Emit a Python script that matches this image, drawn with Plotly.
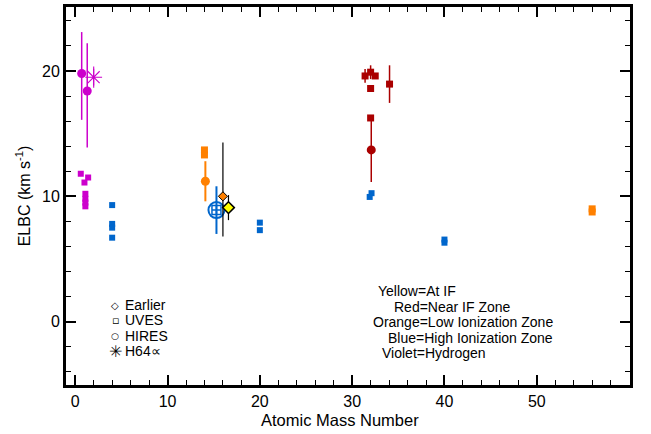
import plotly.graph_objects as go

# ---------------- data ----------------
# Violet = Hydrogen
h_hires_x = [0.7, 1.3]
h_hires_y = [19.8, 18.4]
h_hires_eup = [3.3, 3.8]
h_hires_edn = [3.7, 4.5]
h_uves_x = [0.6, 1.4, 1.0, 1.1, 1.1, 1.1, 1.1]
h_uves_y = [11.8, 11.5, 11.1, 10.2, 9.8, 9.5, 9.2]
h64_x = [2.0]
h64_y = [19.5]
h64_err = [0.85]

# Blue = High ionization zone
blue_uves_x = [4, 4, 4, 4, 20, 20, 32.1, 31.9, 40, 40]
blue_uves_y = [9.3, 7.8, 7.5, 6.7, 7.9, 7.3, 10.25, 9.95, 6.55, 6.3]
blue_comb_x = [15.3]
blue_comb_y = [8.9]
blue_comb_err = [1.9]

# Orange = Low ionization zone
or_uves_x = [14, 14, 56, 56]
or_uves_y = [13.7, 13.3, 9.0, 8.75]
or_hires_x = [14.1]
or_hires_y = [11.2]
or_hires_err = [1.6]
or_earlier_x = [16.0]
or_earlier_y = [10.0]
or_earlier_eup = [4.3]
or_earlier_edn = [3.2]

# Yellow = At IF
ye_earlier_x = [16.6]
ye_earlier_y = [9.1]
ye_earlier_err = [1.0]

# Red = Near IF zone
red_uves_x = [31.4, 32.0, 32.5, 32.0, 34.05, 32.0]
red_uves_y = [19.6, 19.9, 19.6, 18.6, 18.95, 16.25]
red_uves_err = [0.55, 0.55, 0, 0, 1.5, 0]
red_hires_x = [32.07]
red_hires_y = [13.7]
red_hires_err = [2.56]

x_ticks = [0, 10, 20, 30, 40, 50]
y_ticks = [0, 10, 20]

VIOLET = "#CC00CC"
BLUE = "#0066CC"
ORANGE = "#FF8000"
RED = "#AA0000"
YELLOW = "#FFFF00"

fig = go.Figure()

def errbar(arr, color, arrm=None, th=1.5):
    d = dict(type="data", array=arr, color=color, thickness=th, width=0, visible=True)
    if arrm is not None:
        d["symmetric"] = False
        d["arrayminus"] = arrm
    return d

# Hydrogen
fig.add_trace(go.Scatter(x=h_hires_x, y=h_hires_y, mode="markers",
    marker=dict(symbol="circle", size=9, color=VIOLET),
    error_y=errbar(h_hires_eup, VIOLET, h_hires_edn)))
fig.add_trace(go.Scatter(x=h_uves_x, y=h_uves_y, mode="markers",
    marker=dict(symbol="square", size=6, color=VIOLET)))
fig.add_trace(go.Scatter(x=h64_x, y=h64_y, mode="markers",
    marker=dict(symbol="asterisk-open", size=14, color=VIOLET, line=dict(color=VIOLET, width=1.1)),
    error_y=errbar(h64_err, VIOLET, th=1.1)))

# Blue
fig.add_trace(go.Scatter(x=blue_uves_x, y=blue_uves_y, mode="markers",
    marker=dict(symbol="square", size=6, color=BLUE)))
fig.add_trace(go.Scatter(x=blue_comb_x, y=blue_comb_y, mode="markers",
    marker=dict(symbol="circle-open", size=16, color=BLUE, line=dict(color=BLUE, width=2)),
    error_y=errbar(blue_comb_err, BLUE, th=2)))
fig.add_trace(go.Scatter(x=blue_comb_x, y=blue_comb_y, mode="markers",
    marker=dict(symbol="square-cross-open", size=9, color=BLUE, line=dict(color=BLUE, width=1.5))))

# Orange
fig.add_trace(go.Scatter(x=or_uves_x, y=or_uves_y, mode="markers",
    marker=dict(symbol="square", size=7, color=ORANGE)))
fig.add_trace(go.Scatter(x=or_hires_x, y=or_hires_y, mode="markers",
    marker=dict(symbol="circle", size=9, color=ORANGE),
    error_y=errbar(or_hires_err, ORANGE, th=2)))
fig.add_trace(go.Scatter(x=or_earlier_x, y=or_earlier_y, mode="markers",
    marker=dict(symbol="diamond", size=7, color=ORANGE, line=dict(color="black", width=1)),
    error_y=errbar(or_earlier_eup, "black", or_earlier_edn, th=1.2)))

# Yellow
fig.add_trace(go.Scatter(x=ye_earlier_x, y=ye_earlier_y, mode="markers",
    marker=dict(symbol="diamond", size=9, color=YELLOW, line=dict(color="black", width=1.5)),
    error_y=errbar(ye_earlier_err, "black", th=1.2)))

# Red
fig.add_trace(go.Scatter(x=red_uves_x, y=red_uves_y, mode="markers",
    marker=dict(symbol="square", size=7, color=RED),
    error_y=errbar(red_uves_err, RED)))
fig.add_trace(go.Scatter(x=red_hires_x, y=red_hires_y, mode="markers",
    marker=dict(symbol="circle", size=9, color=RED),
    error_y=errbar(red_hires_err, RED)))

FONT = "Arial, Liberation Sans, sans-serif"

axis_common = dict(
    showline=True, linecolor="black", linewidth=3, mirror="allticks",
    ticks="inside", ticklen=10, tickwidth=1.5, tickcolor="black",
    showgrid=False, zeroline=False, automargin=False,
    tickfont=dict(family=FONT, size=16, color="black"),
)

fig.update_xaxes(range=[-1, 60.1], tickvals=x_ticks, ticktext=[str(v) for v in x_ticks],
    minor=dict(dtick=2, tick0=0, ticks="inside", ticklen=5, tickwidth=1.2, tickcolor="black"),
    **axis_common)
fig.update_yaxes(range=[-5.05, 25.1], tickvals=y_ticks, ticktext=[str(v) for v in y_ticks],
    minor=dict(dtick=2, tick0=0, ticks="inside", ticklen=5, tickwidth=1.2, tickcolor="black"),
    title=dict(text="ELBC (km s<sup>-1</sup>)", font=dict(family=FONT, size=16, color="black"), standoff=8),
    **axis_common)

# plot area in page pixels: 66..630 x 7..385 (body margin removed by post_script)
L, R, T, B = 66, 630, 7, 385
W, H = 651, 434

annotations = []
def ptxt(text, px, py, size=14, anchor="left", family=FONT):
    annotations.append(dict(text=text, xref="paper", yref="paper",
        x=(px - L) / (R - L), y=(B - py) / (B - T), xanchor=anchor, yanchor="middle",
        showarrow=False, font=dict(family=family, size=size, color="black")))

# x-axis title
ptxt("Atomic Mass Number", 340, 420, size=16.5, anchor="center")

# legend keys
legend_items = [("◇", "Earlier", 305, 10), ("▫", "UVES", 320, 11), ("○", "HIRES", 336, 9), ("✳", "H64∝", 351, 16)]
for sym, lab, py, sz in legend_items:
    ptxt(sym, 115, py, size=sz, anchor="center", family="DejaVu Sans")
    ptxt(lab, 123, py)

ptxt("Yellow=At IF", 376, 291)
ptxt("Red=Near IF Zone", 392, 307)
ptxt("Orange=Low Ionization Zone", 371, 322)
ptxt("Blue=High Ionization Zone", 386, 338)
ptxt("Violet=Hydrogen", 380, 353)

fig.update_layout(
    width=W, height=H,
    margin=dict(l=L, r=W - R, t=T, b=H - B, autoexpand=False),
    paper_bgcolor="white", plot_bgcolor="white",
    showlegend=False,
    annotations=annotations,
    font=dict(family=FONT, color="black"),
)

fig.write_html("out.html", config={"displayModeBar": False},
               post_script="document.body.style.margin='0';document.body.style.overflow='hidden';")
